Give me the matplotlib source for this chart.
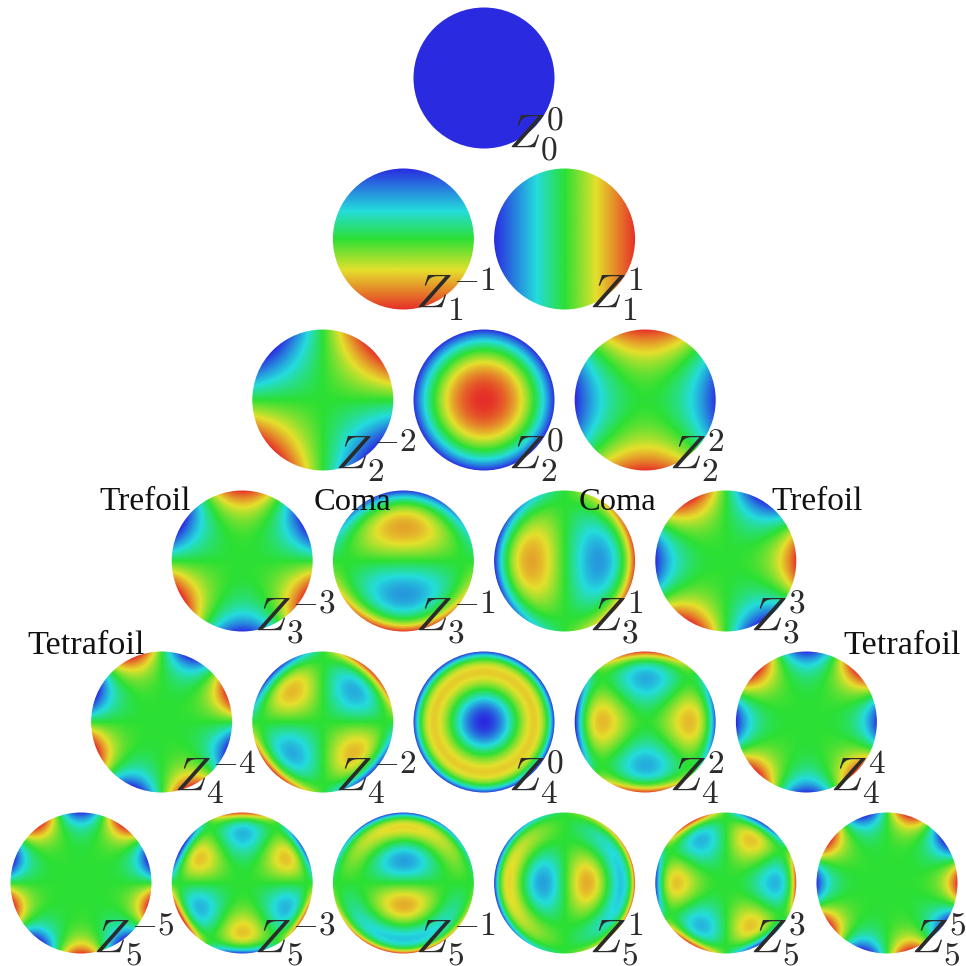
import numpy as np
import matplotlib
matplotlib.use("Agg")
import matplotlib.pyplot as plt
from matplotlib.colors import LinearSegmentedColormap
from matplotlib.patches import Circle
from math import factorial as fact

# Zernike modes, row by row: (n, m)
modes_n = [0, 1, 1, 2, 2, 2, 3, 3, 3, 3, 4, 4, 4, 4, 4, 5, 5, 5, 5, 5, 5]
modes_m = [0, -1, 1, -2, 0, 2, -3, -1, 1, 3, -4, -2, 0, 2, 4, -5, -3, -1, 1, 3, 5]
# sign of each mode as drawn in the figure
signs = [-1, -1, 1, 1, -1, -1, -1, -1, 1, 1, 1, 1, -1, -1, -1, -1, -1, -1, 1, 1, 1]
# names written beside some modes
names = ["Trefoil", "Coma", "Coma", "Trefoil", "Tetrafoil", "Tetrafoil"]

name_x = [99, 314, 579, 771, 27, 843]
name_y = [510, 510, 510, 510, 654, 654]
name_size = [24, 23.4, 23.4, 24, 24.7, 24.7]

W = 966
APEX_X, APEX_Y = 484, 78
DX, DY = 161.2, 161
RADIUS = 70.5
PAD = 1.03

plt.rcParams["mathtext.fontset"] = "cm"
cmap = LinearSegmentedColormap.from_list(
    "rainbow5",
    [(0.0, "#2a2ae0"), (0.30, "#24dcdc"), (0.5, "#2ce034"), (0.72, "#e4e02c"), (1.0, "#e62e28")],
    N=512)


def zernike(n, m, x, y):
    r = np.hypot(x, y)
    t = np.arctan2(y, x)
    k = abs(m)
    R = np.zeros_like(r)
    for s in range((n - k) // 2 + 1):
        c = (-1) ** s * fact(n - s) / (fact(s) * fact((n + k) // 2 - s) * fact((n - k) // 2 - s))
        R += c * r ** (n - 2 * s)
    return R * (np.sin(k * t) if m < 0 else np.cos(k * t))


fig = plt.figure(figsize=(W / 100, W / 100), dpi=100, facecolor="white")
over = fig.add_axes([0, 0, 1, 1], zorder=5)
over.set_xlim(0, W)
over.set_ylim(W, 0)
over.axis("off")
over.patch.set_alpha(0)

g = np.linspace(-PAD, PAD, 500)
X, Y = np.meshgrid(g, g)
INK = "#2b2b2b"

i = 0
for row in range(6):
    for col in range(row + 1):
        n, m, sg = modes_n[i], modes_m[i], signs[i]
        cx = APEX_X + (col - row / 2) * DX
        cy = APEX_Y + row * DY
        h = RADIUS * PAD
        ax = fig.add_axes([(cx - h) / W, 1 - (cy + h) / W, 2 * h / W, 2 * h / W])
        ax.axis("off")
        Z = sg * zernike(n, m, X, Y)
        im = ax.imshow(Z, origin="lower", extent=(-PAD, PAD, -PAD, PAD), cmap=cmap, vmin=-1, vmax=1,
                       interpolation="bilinear")
        im.set_clip_path(Circle((0, 0), 1, transform=ax.transData))
        zx = cx + (17 if m < 0 else 29)
        over.text(zx - 5, cy + 70, rf"$Z_{{{n}}}^{{{m}}}$", fontsize=34.5, ha="left", va="baseline", color=INK)
        i += 1

for s, x, y, fs in zip(names, name_x, name_y, name_size):
    over.text(x, y, s, fontsize=fs, family="Liberation Serif", ha="left", va="baseline", color="#111111")

fig.savefig("out.png", dpi=100, facecolor="white")
